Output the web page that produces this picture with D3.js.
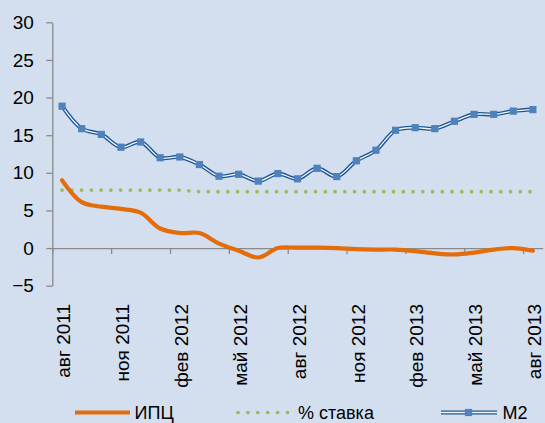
<!DOCTYPE html>
<html>
<head>
<meta charset="utf-8">
<script src="https://cdn.jsdelivr.net/npm/d3@7"></script>
<style>
  html, body { margin: 0; padding: 0; background: #d3dfee; }
  svg { display: block; font-family: "Liberation Sans", Arial, sans-serif; }
</style>
</head>
<body>
<svg id="chart" width="545" height="423"></svg>
<script>
const categories = ["авг 2011","сен 2011","окт 2011","ноя 2011","дек 2011","янв 2012","фев 2012","мар 2012","апр 2012","май 2012","июн 2012","июл 2012","авг 2012","сен 2012","окт 2012","ноя 2012","дек 2012","янв 2013","фев 2013","мар 2013","апр 2013","май 2013","июн 2013","июл 2013","авг 2013"];
const cpi  = [9.0, 6.1, 5.5, 5.2, 4.7, 2.6, 2.0, 2.0, 0.6, -0.35, -1.25, 0.0, 0.05, 0.05, 0.0, -0.15, -0.2, -0.2, -0.4, -0.7, -0.85, -0.6, -0.2, 0.0, -0.35];
const rate = [7.7, 7.7, 7.7, 7.7, 7.7, 7.7, 7.7, 7.5, 7.5, 7.5, 7.5, 7.5, 7.5, 7.5, 7.5, 7.5, 7.5, 7.5, 7.5, 7.5, 7.5, 7.5, 7.5, 7.5, 7.5];
const m2   = [18.85, 15.87, 15.1, 13.4, 14.1, 12.0, 12.1, 11.1, 9.55, 9.8, 8.9, 9.9, 9.2, 10.6, 9.5, 11.6, 13.0, 15.65, 16.0, 15.87, 16.85, 17.77, 17.77, 18.2, 18.4];
const yTicks = [-5, 0, 5, 10, 15, 20, 25, 30];
const labelEvery = 3;
const seriesNames = ["ИПЦ", "% ставка", "M2"];

const colors = { cpi: "#e46c0a", rate: "#9bbb59", m2Line: "#1c5694", m2Marker: "#4f81bd", axis: "#8a8a8a" };

const svg = d3.select("#chart");
const plotLeft = 52.3, plotRight = 542.7, plotTop = 22.3, plotBottom = 285.7;

const x = d3.scaleBand().domain(categories).range([plotLeft, plotRight]).padding(0);
const xi = d3.scaleLinear().domain([0, categories.length]).range([plotLeft, plotRight]);
const y = d3.scaleLinear().domain([-5, 30]).range([plotBottom, plotTop]);
const cx = d => x(d) + x.bandwidth() / 2;

// Y axis
const yAxis = svg.append("g")
  .attr("transform", `translate(${plotLeft},0)`)
  .call(d3.axisLeft(y).tickValues(yTicks).tickSize(6).tickSizeOuter(0).tickPadding(12.5));
yAxis.select(".domain").attr("stroke", colors.axis).attr("stroke-width", 1.3);
yAxis.selectAll(".tick line").attr("stroke", colors.axis).attr("stroke-width", 1.3);
yAxis.selectAll(".tick text").attr("fill", "#000").style("font-size", "19px").style("font-family", "Liberation Sans, Arial, sans-serif");

// X axis at zero
const xTickIdx = d3.range(0, categories.length, labelEvery);
const xAxis = svg.append("g")
  .attr("transform", `translate(0,${y(0)})`)
  .call(d3.axisBottom(xi).tickValues(xTickIdx).tickFormat("").tickSize(6).tickSizeOuter(0));
xAxis.select(".domain").attr("stroke", colors.axis).attr("stroke-width", 1.3);
xAxis.selectAll(".tick line").attr("stroke", colors.axis).attr("stroke-width", 1.3);

// X labels (rotated, at bottom)
svg.append("g").selectAll("text")
  .data(categories.filter((d, i) => i % labelEvery === 0))
  .join("text")
  .attr("transform", d => `translate(${cx(d) + 1.5},304) rotate(-90)`)
  .attr("text-anchor", "end")
  .attr("dy", "0.35em")
  .attr("fill", "#000")
  .style("font-size", "19px")
  .text(d => d);

const smooth = d3.line().x((d, i) => cx(categories[i])).y(d => y(d)).curve(d3.curveCatmullRom.alpha(0.5));
const straight = d3.line().x((d, i) => cx(categories[i])).y(d => y(d));

// Rate dotted
svg.append("path").datum(rate)
  .attr("d", straight)
  .attr("fill", "none")
  .attr("stroke", colors.rate)
  .attr("stroke-width", 3.7)
  .attr("stroke-linecap", "round")
  .attr("stroke-dasharray", "0 9.75");

// CPI
svg.append("path").datum(cpi)
  .attr("d", smooth)
  .attr("fill", "none")
  .attr("stroke", colors.cpi)
  .attr("stroke-width", 4.2)
  .attr("stroke-linecap", "round")
  .attr("stroke-linejoin", "round");

// M2 double line
svg.append("path").datum(m2)
  .attr("d", smooth)
  .attr("fill", "none")
  .attr("stroke", colors.m2Line)
  .attr("stroke-width", 4);
svg.append("path").datum(m2)
  .attr("d", smooth)
  .attr("fill", "none")
  .attr("stroke", "#f4f7fb")
  .attr("stroke-width", 1.3);
svg.append("g").selectAll("rect")
  .data(m2)
  .join("rect")
  .attr("x", (d, i) => cx(categories[i]) - 3.6)
  .attr("y", d => y(d) - 3.6)
  .attr("width", 7.2)
  .attr("height", 7.2)
  .attr("fill", colors.m2Marker);

// Legend
const lg = svg.append("g");
const ly = 412.5, lty = 419;
lg.append("line").attr("x1", 75).attr("x2", 130).attr("y1", ly).attr("y2", ly)
  .attr("stroke", colors.cpi).attr("stroke-width", 4.2);
lg.append("text").attr("x", 134.5).attr("y", lty).style("font-size", "18px").attr("fill", "#000").text(seriesNames[0]);

lg.append("line").attr("x1", 238).attr("x2", 288).attr("y1", ly).attr("y2", ly)
  .attr("stroke", colors.rate).attr("stroke-width", 3.7).attr("stroke-linecap", "round").attr("stroke-dasharray", "0 9.9");
lg.append("text").attr("x", 298).attr("y", lty).style("font-size", "18px").attr("fill", "#000").text(seriesNames[1]);

lg.append("line").attr("x1", 441).attr("x2", 497).attr("y1", ly).attr("y2", ly)
  .attr("stroke", colors.m2Line).attr("stroke-width", 4);
lg.append("line").attr("x1", 441).attr("x2", 497).attr("y1", ly).attr("y2", ly)
  .attr("stroke", "#f4f7fb").attr("stroke-width", 1.3);
lg.append("rect").attr("x", 468.5 - 3.6).attr("y", ly - 3.6).attr("width", 7.2).attr("height", 7.2).attr("fill", colors.m2Marker);
lg.append("text").attr("x", 502.5).attr("y", lty).style("font-size", "18px").attr("fill", "#000").text(seriesNames[2]);
</script>
</body>
</html>
